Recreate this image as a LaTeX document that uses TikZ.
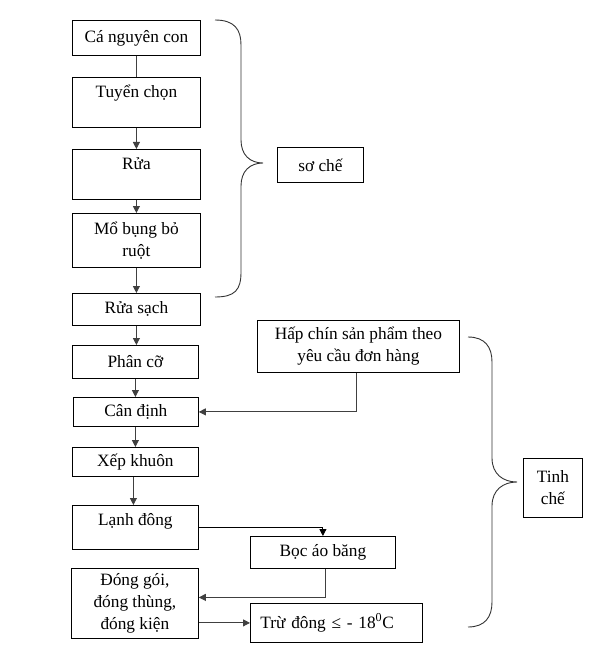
\documentclass[tikz,border=0pt]{standalone}
\usepackage{fontspec}
\setmainfont{Liberation Serif}
\usetikzlibrary{arrows.meta}
\begin{document}
\begin{tikzpicture}[x=1pt,y=-1pt,
  box/.style={draw, line width=0.8pt, inner sep=0pt, anchor=north west, align=center,
    font=\fontsize{17.3}{22}\selectfont},
  toptext/.style={text height=20.5pt, text depth=#1},
  conn/.style={line width=0.9pt, draw=black!75},
  arr/.style={conn, -{Triangle[length=7pt,width=7pt]}},
  brace/.style={line width=0.9pt, draw=black!80}]
\useasboundingbox (0,0) rectangle (595,647);
% left column
\node[box, minimum width=128pt, minimum height=35pt] (c1) at (72,20) {Cá nguyên con};
\node[box, minimum width=128pt, minimum height=50pt, toptext=29.5pt] (c2) at (72,77) {Tuyển chọn};
\node[box, minimum width=128pt, minimum height=50pt, toptext=29.5pt] (c3) at (72,149) {Rửa};
\node[box, minimum width=128pt, minimum height=54pt] (c4) at (72,213) {Mổ bụng bỏ\\ruột};
\node[box, minimum width=128pt, minimum height=32pt] (c5) at (72,293) {Rửa sạch};
\node[box, minimum width=126pt, minimum height=33pt] (c6) at (72,345) {Phân cỡ};
\node[box, minimum width=125pt, minimum height=29pt] (c7) at (73,397) {Cân định};
\node[box, minimum width=126pt, minimum height=29pt] (c8) at (72,447) {Xếp khuôn};
\node[box, minimum width=126pt, minimum height=44pt, toptext=23.5pt] (c9) at (72,505) {Lạnh đông};
\node[box, minimum width=145pt, minimum height=32pt] (c10) at (250,536) {Bọc áo băng};
\node[box, minimum width=127pt, minimum height=70pt] (c11) at (71,568) {Đóng gói,\\đóng thùng,\\đóng kiện};
\node[box, minimum height=39pt, inner xsep=10pt, text width=152pt, align=left] (c12) at (250,603) {Trừ đông ≤ - 18\textsuperscript{0}C};
\node[box, minimum width=202pt, minimum height=52pt] (c13) at (257,320) {Hấp chín sản phẩm theo\\yêu cầu đơn hàng};
% labels
\node[box, minimum width=86pt, minimum height=35pt] (so) at (277,147) {sơ chế};
\node[box, minimum width=59pt, minimum height=59pt] (tinh) at (523,458) {Tinh\\chế};
% connectors
\draw[conn] (c1.south) -- (c2.north);
\draw[arr] (c2.south) -- (c3.north);
\draw[arr] (c3.south) -- (c4.north);
\draw[arr] (c4.south) -- (c5.north);
\draw[arr] (c5.south) -- (c5.south |- c6.north);
\draw[arr] (c6.south) -- (c6.south |- c7.north);
\draw[arr] (c7.south -| c6.south) -- (c6.south |- c8.north);
\draw[arr] ([xshift=-2pt]c8.south) -- ([xshift=-2pt]c8.south |- c9.north);
\draw[arr] ([xshift=-2pt]c13.south) |- (c7.east);
\draw[arr, draw=black] (c9.east) -| (c10.north);
\draw[arr] ([xshift=2.5pt]c10.south) |- ([yshift=6pt]c11.east);
\draw[arr] (c11.east |- c12.west) -- (c12.west);
% braces
\draw[brace] (215,20) .. controls (235,20) and (241,30) .. (241,45) -- (241,140)
  .. controls (241,155) and (250,163) .. (263,163)
  .. controls (250,163) and (241,171) .. (241,186) -- (241,272)
  .. controls (241,290) and (235,297) .. (215,297);
\draw[brace] (468,337) .. controls (485,337) and (492,347) .. (492,362) -- (492,458)
  .. controls (492,474) and (503,482) .. (517,482)
  .. controls (503,482) and (492,490) .. (492,506) -- (492,602)
  .. controls (492,617) and (485,627) .. (468,627);
\end{tikzpicture}
\end{document}
